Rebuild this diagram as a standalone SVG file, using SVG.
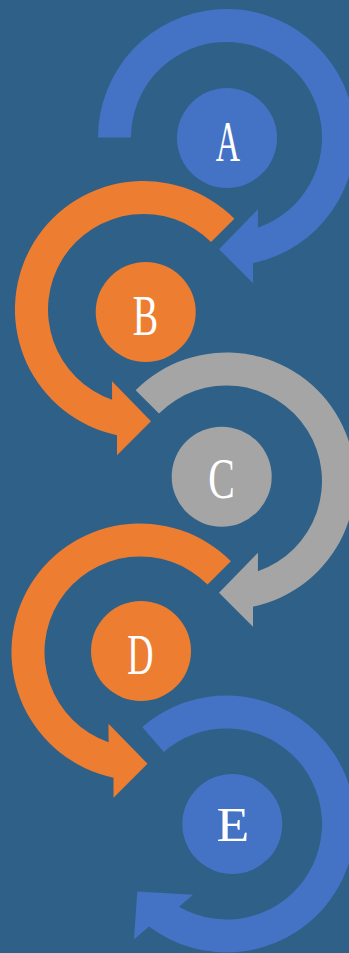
<svg xmlns="http://www.w3.org/2000/svg" xmlns:xlink="http://www.w3.org/1999/xlink" width="349" height="953" viewBox="0 0 349 953">
<style>
.lbl{font-family:"Liberation Serif","Times New Roman",serif;fill:#FFFFFF;text-anchor:middle}
.blue{fill:#4472C4}
.orange{fill:#ED7D31}
.grey{fill:#A5A5A5}
</style>
<defs>
<path id="t180" d="M -128.5 0 A 128.5 128.5 0 1 1 26.5 125.7 L 26.5 145.7 L -7.5 111.7 L 31.5 71.7 L 31.4 90.2 A 95.5 95.5 0 1 0 -95.5 0 Z"/>
<path id="t225" d="M -90.86 -90.86 A 128.5 128.5 0 1 1 26.5 125.7 L 26.5 145.7 L -7.5 111.7 L 31.5 71.7 L 31.4 90.2 A 95.5 95.5 0 1 0 -67.53 -67.53 Z"/>
</defs>
<rect x="0" y="0" width="349" height="953" fill="#2F6087"/>
<g id="connectors">
<use xlink:href="#t180" href="#t180" class="blue" transform="translate(226.5,137.5)"/>
<use xlink:href="#t225" href="#t225" class="orange" transform="translate(143.5,309.5) scale(-1,1)"/>
<use xlink:href="#t225" href="#t225" class="grey" transform="translate(226.5,481)"/>
<use xlink:href="#t225" href="#t225" class="orange" transform="translate(140,652) scale(-1,1)"/>
<use xlink:href="#t180" href="#t180" class="blue" transform="translate(226.5,824) rotate(49)"/>
</g>
<g id="node-A">
<circle cx="227" cy="138" r="50" class="blue"/>
<text class="lbl" font-size="56" transform="translate(228,160.7) scale(0.6,1)">A</text>
</g>
<g id="node-B">
<circle cx="145.7" cy="312" r="50" class="orange"/>
<text class="lbl" font-size="56" transform="translate(145.5,335) scale(0.68,1)">B</text>
</g>
<g id="node-C">
<circle cx="221.7" cy="476.7" r="50" class="grey"/>
<text class="lbl" font-size="56" transform="translate(221.5,498) scale(0.71,1)">C</text>
</g>
<g id="node-D">
<circle cx="141" cy="651" r="50" class="orange"/>
<text class="lbl" font-size="56" transform="translate(140.5,674) scale(0.65,1)">D</text>
</g>
<g id="node-E">
<circle cx="232.3" cy="824" r="50" class="blue"/>
<text class="lbl" font-size="48" transform="translate(233,841) scale(1.12,1)">E</text>
</g>
</svg>
